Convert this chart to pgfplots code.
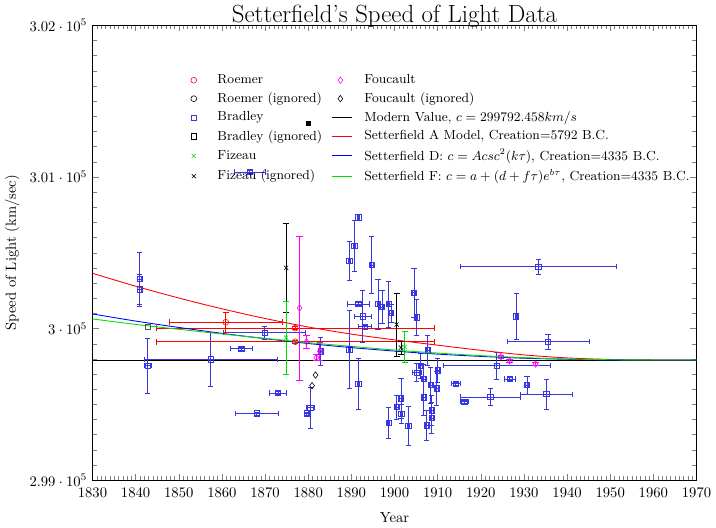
\documentclass[border=0pt]{standalone}
\usepackage{pgfplots}
\usepackage{pgfplotstable}
\pgfplotsset{compat=1.18}
\definecolor{bblue}{RGB}{55,55,225}
\definecolor{fgreen}{RGB}{0,225,0}
\definecolor{magen}{RGB}{255,0,255}
\pgfplotsset{
  markleg/.style={legend image code/.code={\path (0pt,0pt) (20pt,0pt); \draw[##1] plot coordinates {(6pt,0pt)};}},
  lineleg/.style={legend image code/.code={\path (0pt,0pt) (20pt,0pt); \draw[##1] (0pt,0pt) -- (14pt,0pt);}},
}

\pgfplotstableread{
x y ex ey
1840.9 300327 0.5 178
1840.9 300259 0.5 100
1842.8 299754 0.9 180
1857.4 299797 15.5 180
1864.5 299867 2.5 12
1866.4 301033 3.6 10
1869.9 299972 9.5 45
1873.0 299575 2.0 10
1868.1 299440 5.0 10
1880.5 299477 1.0 138
1879.6 299440 0.5 10
1882.9 299850 0.3 90
1889.5 300446 0.3 130
1889.5 299863 0.3 260
1890.7 300545 0.3 167
1891.6 300734 0.3 20
1891.6 299634 0.3 169
1894.7 300418 0.3 187
1891.6 300161 2.6 10
1892.6 300080 2.0 174
1893.1 300011 1.5 10
1896.2 300161 0.3 166
1897.1 300142 0.3 110
1898.6 300161 0.3 150
1899.2 300102 0.3 60
1904.5 300237 0.3 163
1905.1 300074 0.3 120
1907.7 299856 0.3 100
1906.1 299754 0.3 80
1905.1 299710 1.0 60
1906.8 299667 0.3 100
1906.8 299547 0.3 120
1908.4 299627 0.3 120
1909.8 299605 0.3 110
1910.0 299725 0.3 80
1908.6 299460 0.3 100
1908.6 299410 0.3 100
1907.5 299362 0.3 100
1901.5 299540 0.3 130
1900.5 299482 0.3 80
1901.6 299438 0.3 60
1898.6 299379 0.3 100
1903.2 299357 0.3 130
1914.2 299636 1.0 10
1916.2 299519 1.0 10
1922.2 299549 7.0 54
1923.7 299754 12.5 87
1926.7 299667 1.3 10
1930.7 299627 0.3 60
1935.2 299567 6.0 98
1933.3 300407 18.0 48
1928.2 300080 0.3 152
1935.6 299913 9.5 51
}\bradley

\pgfplotstableread{
x y ex ey
1860.9 300041 13.2 65
1877.0 300002 32.2 10
1877.0 299913 32.2 10
}\roemer

\pgfplotstableread{
x y ex ey
1874.9 299940 0 240
1902.4 299879 0 103
}\fizeau

\pgfplotstableread{
x y ex ey
1874.9 300400 0 295
1900.5 300026 0 207
1901.5 299874 0 44
}\fizeauign

\pgfplotstableread{
x y ex ey
1878.0 300135 0 475
1879.6 299913 0 45
1882.7 299850 0 60
1881.9 299808 0 20
1924.7 299815 0 10
1926.7 299786 0 10
1932.7 299765 0 10
}\foucault

\begin{document}
\begin{tikzpicture}
\begin{axis}[
  width=413pt, height=311pt, scale only axis,
  xmin=1830, xmax=1970, ymin=299000, ymax=302000,
  xtick distance=10, minor x tick num=9,
  ytick distance=1000, minor y tick num=9,
  xticklabel style={/pgf/number format/1000 sep={}, yshift=-2pt},
  scaled y ticks=false,
  yticklabel style={/pgf/number format/.cd, sci, precision=2},
  title={Setterfield's Speed of Light Data},
  title style={font=\fontsize{17}{20}\selectfont, yshift=-11pt},
  xlabel={Year}, ylabel={Speed of Light (km/sec)},
  xlabel style={yshift=-3pt},
  legend columns=2,
  legend cell align=left,
  legend style={draw=none, fill=none, at={(rel axis cs:0.145,0.905)}, anchor=north west,
    font=\fontsize{9}{11}\selectfont,
    row sep=0.6pt, /tikz/every even column/.append style={column sep=4pt}},
  error bars/error bar style={line width=0.5pt},
]
\addlegendimage{red, mark=o, mark size=2pt, markleg}
\addlegendentry{Roemer}
\addlegendimage{magen, mark=diamond, mark size=2.2pt, markleg}
\addlegendentry{Foucault}
\addlegendimage{black, mark=o, mark size=2pt, markleg}
\addlegendentry{Roemer (ignored)}
\addlegendimage{black, mark=diamond, mark size=2.2pt, markleg}
\addlegendentry{Foucault (ignored)}
\addlegendimage{bblue, mark=square, mark size=1.8pt, markleg}
\addlegendentry{Bradley}
\addlegendimage{black, line width=0.8pt, lineleg}
\addlegendentry{Modern Value, $c=299792.458 km/s$}
\addlegendimage{black, mark=square, mark size=1.8pt, markleg}
\addlegendentry{Bradley (ignored)}
\addlegendimage{red, line width=0.8pt, lineleg}
\addlegendentry{Setterfield A Model, Creation=5792 B.C.}
\addlegendimage{fgreen, mark=x, mark size=2pt, markleg}
\addlegendentry{Fizeau}
\addlegendimage{blue, line width=0.8pt, lineleg}
\addlegendentry{Setterfield D: $c=Acsc^2(k\tau)$, Creation=4335 B.C.}
\addlegendimage{black, mark=x, mark size=2pt, markleg}
\addlegendentry{Fizeau (ignored)}
\addlegendimage{fgreen, line width=0.8pt, lineleg}
\addlegendentry{Setterfield F: $c=a+(d+f\tau)e^{b\tau}$, Creation=4335 B.C.}

% modern value
\addplot[black, line width=0.6pt, forget plot] coordinates {(1830,299792.458) (1970,299792.458)};

% Bradley
\addplot[only marks, mark=square, mark size=1.8pt, bblue, forget plot,
  error bars/.cd, x dir=both, x explicit, y dir=both, y explicit]
  table[x=x, y=y, x error=ex, y error=ey]{\bradley};
% Bradley ignored
\addplot[only marks, mark=square, mark size=1.8pt, black!70!cyan, forget plot]
  coordinates {(1842.8,300011)};
\addplot[only marks, mark=square*, mark size=1.2pt, black, forget plot]
  coordinates {(1880.0,301355)};
% Roemer
\addplot[only marks, mark=o, mark size=2pt, red, forget plot,
  error bars/.cd, x dir=both, x explicit, y dir=both, y explicit]
  table[x=x, y=y, x error=ex, y error=ey]{\roemer};
% Fizeau ignored
\addplot[only marks, mark=x, mark size=2pt, black, forget plot,
  error bars/.cd, y dir=both, y explicit]
  table[x=x, y=y, y error=ey]{\fizeauign};
% Fizeau
\addplot[only marks, mark=x, mark size=2pt, fgreen, forget plot,
  error bars/.cd, y dir=both, y explicit]
  table[x=x, y=y, y error=ey]{\fizeau};
% Foucault
\addplot[only marks, mark=diamond, mark size=2.2pt, magen, forget plot,
  error bars/.cd, y dir=both, y explicit]
  table[x=x, y=y, y error=ey]{\foucault};
% Foucault ignored
\addplot[only marks, mark=diamond, mark size=2.2pt, black, forget plot]
  coordinates {(1881.7,299693) (1880.9,299623)};

% Setterfield A
\addplot[red, line width=0.6pt, smooth, forget plot] coordinates {
(1830,300364) (1840,300279) (1850,300201) (1860,300130) (1870,300066)
(1880,300010) (1890,299963) (1900,299925) (1910,299890) (1920,299856)
(1930,299826) (1940,299806) (1950,299796) (1960,299792.5) (1970,299792.5)};
% Setterfield D
\addplot[blue, line width=0.6pt, smooth, forget plot] coordinates {
(1830,300096) (1840,300049) (1850,300007) (1860,299968) (1870,299933)
(1880,299901) (1890,299874) (1900,299851) (1910,299831) (1920,299816)
(1930,299804) (1940,299797) (1950,299793) (1960,299792.5) (1970,299792.5)};
% Setterfield F
\addplot[fgreen, line width=0.6pt, smooth, forget plot] coordinates {
(1830,300063) (1840,300027) (1850,299995) (1860,299964) (1870,299935)
(1880,299907) (1890,299882) (1900,299858) (1910,299838) (1920,299821)
(1930,299808) (1940,299799) (1950,299794) (1960,299792.5) (1970,299792.5)};
\end{axis}
\end{tikzpicture}
\end{document}
